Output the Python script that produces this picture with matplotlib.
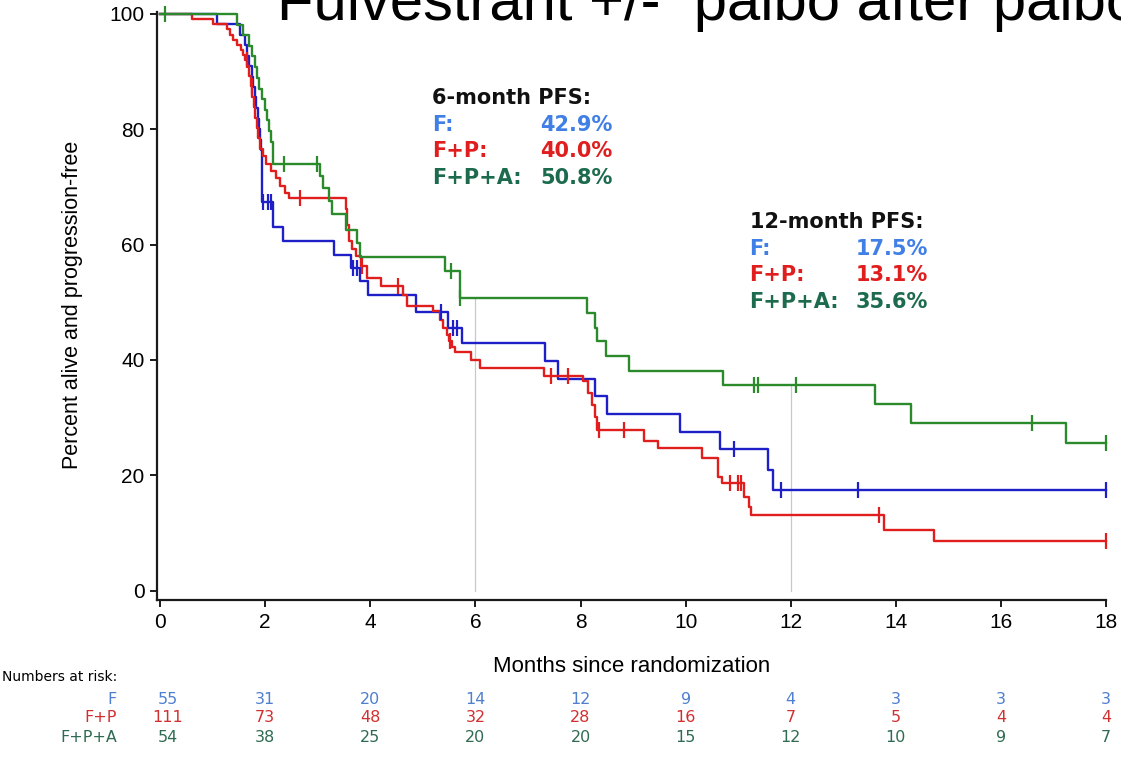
import numpy as np
import matplotlib
matplotlib.use("Agg")
import matplotlib.pyplot as plt
from matplotlib import transforms

# ---- Kaplan-Meier step data (months, percent alive and progression-free) ----
f_times = [1.08, 1.52, 1.62, 1.66, 1.70, 1.74, 1.77, 1.80, 1.83, 1.86, 1.88, 1.90,
           1.92, 1.94, 2.15, 2.33, 3.31, 3.64, 3.80, 3.95, 4.87, 5.48, 5.74, 7.32,
           7.57, 8.28, 8.51, 9.89, 10.66, 11.57, 11.67]
f_surv = [98.2, 96.4, 94.5, 92.7, 90.9, 89.1, 87.3, 85.5, 83.6, 81.8, 80.0, 78.2,
          76.4, 67.3, 63.1, 60.7, 58.2, 56.0, 53.6, 51.2, 48.3, 45.6, 42.9, 39.8,
          36.7, 33.7, 30.6, 27.6, 24.5, 20.9, 17.5]
f_censored = [1.96, 2.06, 2.10, 3.67, 3.75, 5.35, 5.58, 5.64, 10.93, 11.81, 13.28, 18.0]

fp_times = [0.60, 1.01, 1.28, 1.33, 1.38, 1.46, 1.53, 1.58, 1.62, 1.66,
            1.69, 1.72, 1.75, 1.78, 1.81, 1.84, 1.87, 1.90, 1.96, 2.02,
            2.10, 2.20, 2.28, 2.38, 2.46, 3.54, 3.56, 3.60, 3.65, 3.72,
            3.83, 3.93, 4.21, 4.62, 4.70, 5.20, 5.32, 5.39, 5.45, 5.50,
            5.56, 5.61, 5.92, 6.08, 7.30, 8.05, 8.14, 8.22, 8.27, 8.32,
            9.20, 9.48, 10.32, 10.61, 10.70, 11.12, 11.20, 11.25, 13.78, 14.73]
fp_surv = [99.1, 98.2, 97.3, 96.4, 95.5, 94.6, 93.7, 92.8, 91.9, 91.0,
           89.2, 87.4, 85.6, 83.8, 82.0, 80.2, 78.4, 76.6, 75.3, 74.0,
           72.7, 71.5, 70.2, 69.0, 68.0, 66.1, 63.4, 60.7, 59.3, 58.0,
           56.2, 54.2, 52.9, 51.2, 49.4, 48.4, 47.0, 45.6, 44.4, 43.3,
           42.3, 41.4, 40.0, 38.6, 37.3, 36.4, 34.3, 32.2, 30.2, 27.9,
           26.0, 24.7, 23.0, 19.8, 18.7, 16.3, 14.6, 13.1, 10.6, 8.6]
fp_censored = [1.65, 1.74, 2.67, 3.85, 4.53, 5.52, 7.43, 7.76, 8.35, 8.83,
               10.84, 11.0, 11.05, 13.68, 18.0]

fpa_times = [1.47, 1.57, 1.70, 1.74, 1.81, 1.85, 1.89, 1.93, 2.00, 2.03,
             2.08, 2.10, 2.15, 3.04, 3.10, 3.22, 3.27, 3.54, 3.74, 3.80,
             5.42, 5.70, 8.12, 8.27, 8.32, 8.49, 8.92, 10.72, 13.60, 14.29, 17.23]
fpa_surv = [98.1, 96.3, 94.4, 92.6, 90.7, 88.9, 87.0, 85.2, 83.3, 81.5,
            79.6, 77.8, 74.0, 71.9, 69.8, 67.6, 65.3, 62.6, 60.2, 57.9,
            55.5, 50.8, 48.1, 45.5, 43.2, 40.6, 38.0, 35.6, 32.3, 29.0, 25.6]
fpa_censored = [0.10, 2.36, 2.98, 5.54, 5.70, 11.30, 11.38, 12.10, 16.60, 18.0]

# ---- summary labels ----
arm_labels = ["F:", "F+P:", "F+P+A:"]
pfs_6mo = ["42.9%", "40.0%", "50.8%"]
pfs_12mo = ["17.5%", "13.1%", "35.6%"]

# ---- numbers at risk ----
risk_months = [0, 2, 4, 6, 8, 10, 12, 14, 16, 18]
risk_names = ["F", "F+P", "F+P+A"]
risk_f = [55, 31, 20, 14, 12, 9, 4, 3, 3, 3]
risk_fp = [111, 73, 48, 32, 28, 16, 7, 5, 4, 4]
risk_fpa = [54, 38, 25, 20, 20, 15, 12, 10, 9, 7]

x_ticks = [0, 2, 4, 6, 8, 10, 12, 14, 16, 18]
y_ticks = [0, 20, 40, 60, 80, 100]

line_colors = ["#1f1fc8", "#e01e1e", "#2b8a2b"]
text_colors = ["#3f7fe6", "#e01e1e", "#1d6b4f"]
risk_colors = ["#4f7fcf", "#d23030", "#2f6b52"]

W, H = 1121, 764
fig = plt.figure(figsize=(W / 100, H / 100), dpi=100)
fig.patch.set_facecolor("white")

left_px, right_px, top_px, bottom_px = 157, 1106, 12, 600
ax = fig.add_axes([left_px / W, 1 - bottom_px / H,
                   (right_px - left_px) / W, (bottom_px - top_px) / H])

x_max = 18.0
ax.set_xlim(-0.06, x_max)
ax.set_ylim(-1.6, 100.3)


def surv_at(times, surv, t):
    i = np.searchsorted(times, t, side="right")
    return 100.0 if i == 0 else surv[i - 1]


arms = [(f_times, f_surv, f_censored),
        (fp_times, fp_surv, fp_censored),
        (fpa_times, fpa_surv, fpa_censored)]

# reference lines at 6 and 12 months, up to the highest curve
for t in (6, 12):
    top = max(surv_at(np.array(a[0]), a[1], t) for a in arms)
    ax.plot([t, t], [0, top], color="#c8c8c8", lw=0.9, zorder=1)

for (times, surv, cens), col in zip(arms, line_colors):
    xs = np.concatenate([[0.0], times, [x_max]])
    ys = np.concatenate([[100.0], surv, [surv[-1]]])
    ax.step(xs, ys, where="post", color=col, lw=1.7, zorder=3, clip_on=False)
    cy = [surv_at(np.array(times), surv, c) for c in cens]
    ax.plot(cens, cy, ls="none", marker="|", ms=12, mew=1.6, color=col,
            zorder=4, clip_on=False)

for side in ("top", "right"):
    ax.spines[side].set_visible(False)
for side in ("left", "bottom"):
    ax.spines[side].set_linewidth(1.6)
    ax.spines[side].set_color("#1a1a1a")

ax.set_xticks(x_ticks)
ax.set_yticks(y_ticks)
ax.tick_params(axis="both", direction="out", length=5, width=1.4,
               color="#1a1a1a", labelsize=15, pad=4)
for lab in ax.get_xticklabels() + ax.get_yticklabels():
    lab.set_fontfamily("Liberation Sans")

ax.set_xlabel("Months since randomization", fontsize=16,
              fontfamily="Liberation Sans", labelpad=18)
fig.text(73 / W, 1 - 305 / H, "Percent alive and progression-free", rotation=90,
         ha="center", va="center", fontsize=15.5, fontfamily="Liberation Sans")

# title running off the top and right edges
fig.text(277 / W, 1 - 20 / H, "Fulvestrant +/-  palbo after palbo",
         fontsize=43, fontfamily="Liberation Sans", ha="left", va="baseline")

# PFS summaries


def to_data(px, py):
    return (px - 160) / 52.6, (591 - py) / 5.77


def pfs_block(x_left, x_right, y_head, header, values):
    hx, hy = to_data(x_left, y_head)
    ax.text(hx, hy, header, fontsize=15, fontweight="bold", color="#111111",
            fontfamily="DejaVu Sans", ha="left", va="center")
    xr, _ = to_data(x_right, y_head)
    for k, (lab, val) in enumerate(zip(arm_labels, values)):
        _, yy = to_data(x_left, y_head + 26.8 * (k + 1))
        ax.text(hx, yy, lab, fontsize=15, fontweight="bold", color=text_colors[k],
                fontfamily="DejaVu Sans", ha="left", va="center")
        ax.text(xr, yy, val, fontsize=15, fontweight="bold", color=text_colors[k],
                fontfamily="DejaVu Sans", ha="right", va="center")


pfs_block(432, 613, 98, "6-month PFS:", pfs_6mo)
pfs_block(750, 929, 222, "12-month PFS:", pfs_12mo)

# numbers at risk table
risk_font = "DejaVu Sans"
fig.text(2 / W, 1 - 677 / H, "Numbers at risk:", fontsize=10,
         fontfamily=risk_font, ha="left", va="center")
blend = transforms.blended_transform_factory(ax.transData, fig.transFigure)
row_y = [699, 718, 737]
for k, (name, counts) in enumerate(zip(risk_names, [risk_f, risk_fp, risk_fpa])):
    fy = 1 - row_y[k] / H
    fig.text(117 / W, fy, name, fontsize=11.5, fontfamily=risk_font,
             color=risk_colors[k], ha="right", va="center")
    for m, c in zip(risk_months, counts):
        ax.text(m + (0.15 if m == 0 else 0), fy, str(c), transform=blend,
                fontsize=11.5, fontfamily=risk_font, color=risk_colors[k],
                ha="center", va="center", clip_on=False)

fig.savefig("out.png", dpi=100)
